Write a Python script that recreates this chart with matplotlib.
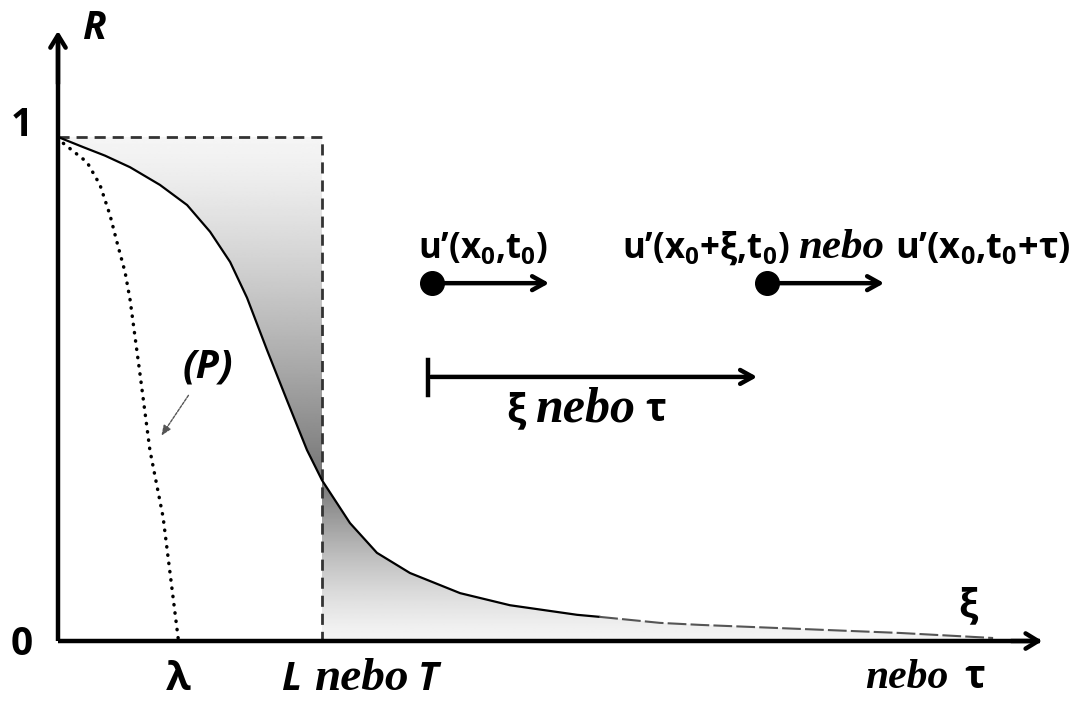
import numpy as np
import matplotlib
matplotlib.use('Agg')
import matplotlib.pyplot as plt
from matplotlib.patches import Polygon

plt.rcParams['mathtext.fontset'] = 'custom'
plt.rcParams['mathtext.rm'] = 'Open Sans:bold'
plt.rcParams['mathtext.bf'] = 'Open Sans:bold'
plt.rcParams['mathtext.it'] = 'Open Sans:italic:bold'

# correlation curve R(xi) (L = 1)
curve_x = [0.0, 0.095, 0.178, 0.273, 0.386, 0.489, 0.576, 0.652, 0.716, 0.792, 0.867, 0.943, 1.0,
           1.106, 1.208, 1.333, 1.523, 1.712, 1.966, 2.05, 2.28, 2.432, 2.811, 3.189, 3.542]
curve_R = [1.0, 0.980, 0.963, 0.940, 0.905, 0.865, 0.812, 0.752, 0.681, 0.577, 0.478, 0.379, 0.319,
           0.234, 0.175, 0.135, 0.095, 0.071, 0.052, 0.048, 0.036, 0.032, 0.024, 0.016, 0.006]
# osculating parabola (P)
parab_x = [0.0, 0.019, 0.110, 0.159, 0.197, 0.223, 0.254, 0.273, 0.311, 0.348, 0.398, 0.455]
parab_R = [1.0, 0.988, 0.950, 0.905, 0.845, 0.792, 0.732, 0.677, 0.528, 0.379, 0.246, 0.006]
L = 1.0
lam = 0.455

sans = 'Open Sans'
serif = 'Liberation Serif'

fig = plt.figure(figsize=(10.76, 7.01), dpi=100)
ax = fig.add_axes([0, 0, 1, 1])
ax.set_xlim(-0.2197, 3.856)
ax.set_ylim(-0.119, 1.2718)
ax.axis('off')

# gradient shading, darkest where the curve crosses L
cx = np.array(curve_x)
cR = np.array(curve_R)
k = curve_x.index(L)
rr = np.linspace(0, 1, 400)
shade = np.where(rr > cR[k], (1 - rr) / (1 - cR[k]), rr / cR[k])
img = np.tile((0.96 - 0.5 * shade ** 1.3)[:, None], (1, 2))
upper = Polygon(list(zip(cx[:k + 1], cR[:k + 1])) + [(L, 1.0), (0, 1.0)], closed=True,
                facecolor='none', edgecolor='none')
lower = Polygon([(L, 0)] + list(zip(cx[k:], cR[k:])) + [(cx[-1], 0)], closed=True,
                facecolor='none', edgecolor='none')
for p in (upper, lower):
    ax.add_patch(p)
    im = ax.imshow(img, extent=[0, cx[-1], 0, 1], origin='lower', aspect='auto',
                   cmap='gray', vmin=0, vmax=1, interpolation='bilinear', zorder=1)
    im.set_clip_path(p)

# dashed box
ax.plot([0, L, L], [1, 1, 0], ls=(0, (4, 2.5)), color='#333333', lw=2, zorder=2)

# curve: solid then broken grey tail
j = curve_x.index(2.05)
ax.plot(curve_x[:j + 1], curve_R[:j + 1], color='black', lw=1.6, zorder=3)
ax.plot(curve_x[j:], curve_R[j:], color='#555555', lw=1.5, ls=(0, (9, 2)), zorder=3)

# parabola
ax.plot(parab_x, parab_R, color='black', lw=2.5, ls=(0, (0.1, 2.3)), dash_capstyle='round', zorder=3)

# axes with arrows
ax.plot([0, 0], [0, 1.2], color='black', lw=3.2, solid_capstyle='butt', zorder=4)
ax.plot([0, 3.72], [0, 0], color='black', lw=3.2, solid_capstyle='butt', zorder=4)
ax.annotate('', xy=(0, 1.216), xytext=(0, 1.1),
            arrowprops=dict(arrowstyle='->,head_length=0.9,head_width=0.55', lw=3.2, color='black'))
ax.annotate('', xy=(3.739, 0), xytext=(3.6, 0),
            arrowprops=dict(arrowstyle='->,head_length=0.9,head_width=0.55', lw=3.2, color='black'))

# (P) pointer
ax.annotate('', xy=(0.386, 0.403), xytext=(0.5, 0.492),
            arrowprops=dict(arrowstyle='-|>,head_length=0.6,head_width=0.25', lw=1, color='#555555',
                            linestyle=(0, (2, 1))))

# velocity sketches
dots_x = [1.417, 2.686]
for dx in dots_x:
    ax.plot(dx, 0.710, 'o', color='black', ms=17, zorder=5)
    ax.annotate('', xy=(dx + 0.454, 0.710), xytext=(dx, 0.710),
                arrowprops=dict(arrowstyle='->,head_length=0.9,head_width=0.5', lw=3.2, color='black'))
ax.plot([1.402, 1.402], [0.488, 0.558], color='black', lw=3.2)
ax.annotate('', xy=(2.659, 0.524), xytext=(1.402, 0.524),
            arrowprops=dict(arrowstyle='->,head_length=0.9,head_width=0.5', lw=3.2, color='black'))


def sans_txt(x, y, s, size=28, italic=False, ha='center', va='center'):
    ax.text(x, y, s, fontfamily=sans, fontweight='bold', fontstyle='italic' if italic else 'normal',
            fontsize=size, ha=ha, va=va)


def nebo(x, y, size):
    ax.text(x, y, 'nebo', fontfamily=serif, fontweight='bold', fontstyle='italic',
            fontsize=size, ha='center', va='baseline')


# axis labels
sans_txt(0.140, 1.216, 'R', italic=True)
sans_txt(-0.136, 1.022, '1')
sans_txt(-0.136, -0.006, '0')
sans_txt(3.447, 0.069, 'ξ')
sans_txt(0.568, 0.544, '(P)', size=29, italic=True)
sans_txt(0.4545, -0.097, 'λ', size=29, va='baseline')
sans_txt(0.886, -0.097, 'L', italic=True, va='baseline')
nebo(1.148, -0.097, 34)
sans_txt(1.402, -0.097, 'T', italic=True, va='baseline')
nebo(3.216, -0.093, 30)
sans_txt(3.472, -0.093, 'τ', va='baseline')

# velocity labels
sans_txt(1.610, 0.760, r'$\mathbf{u’(x_0{,}t_0)}$', size=25, va='baseline')
sans_txt(2.136, 0.760, r'$\mathbf{u’(x_0{+}ξ{,}t_0)}$', size=25, ha='left', va='baseline')
nebo(2.965, 0.760, 31)
sans_txt(3.833, 0.760, r'$\mathbf{u’(x_0{,}t_0{+}τ)}$', size=26, ha='right', va='baseline')

sans_txt(1.735, 0.4365, 'ξ', va='baseline')
nebo(2.0, 0.4365, 36)
sans_txt(2.265, 0.4365, 'τ', va='baseline')

fig.savefig('out.png', dpi=100)
